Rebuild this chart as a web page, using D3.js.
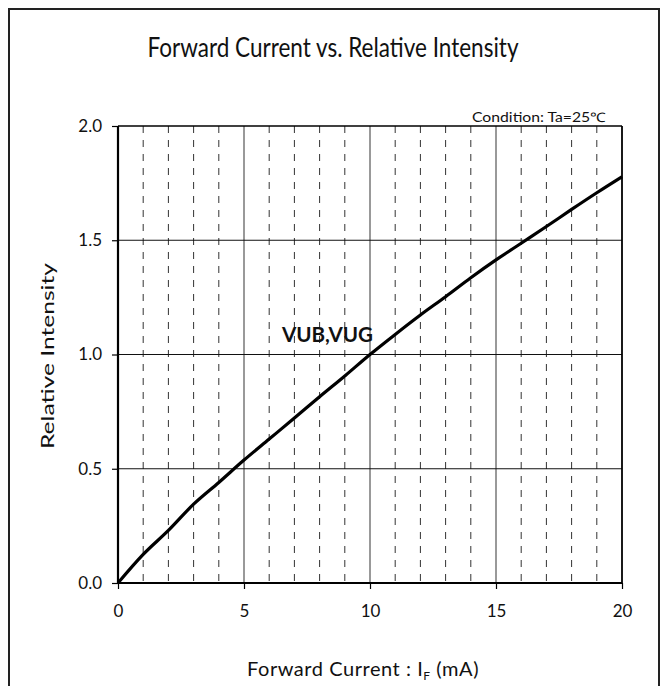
<!DOCTYPE html>
<html><head><meta charset="utf-8">
<script src="https://cdn.jsdelivr.net/npm/d3@7/dist/d3.min.js"></script>
<style>body{margin:0;background:#fff}text{font-family:Lato,"Open Sans",sans-serif;fill:#111}</style>
</head><body><svg id="c" width="665" height="686"></svg>
<script>
const currentMA = [0,1,2,3,4,5,6,7,8,9,10,11,12,13,14,15,16,17,18,19,20];
const relIntensity = [0,0.125,0.23,0.345,0.44,0.538,0.63,0.722,0.815,0.906,1.0,1.088,1.173,1.253,1.336,1.414,1.487,1.56,1.635,1.708,1.778];
const xTicks = [0,5,10,15,20];
const yTicks = [0,0.5,1.0,1.5,2.0];
const xMinorGrid = [1,2,3,4,6,7,8,9,11,12,13,14,16,17,18,19];
const titleText = "Forward Current vs. Relative Intensity";
const conditionText = "Condition: Ta=25\u2103";
const seriesLabel = "VUB,VUG";

const svg = d3.select("#c");
const L=118, R=622, T=126, B=583;
const x = d3.scaleLinear().domain([0,20]).range([L,R]);
const y = d3.scaleLinear().domain([0,2]).range([B,T]);

svg.append("rect").attr("x",9).attr("y",9).attr("width",650).attr("height",700)
  .attr("fill","none").attr("stroke","#222").attr("stroke-width",2);

svg.append("text").attr("x",333).attr("y",57).attr("text-anchor","middle")
  .attr("font-size",26).attr("textLength",371).attr("lengthAdjust","spacingAndGlyphs").text(titleText);
svg.append("text").attr("x",606).attr("y",122).attr("text-anchor","end")
  .attr("font-size",13).attr("textLength",134).attr("lengthAdjust","spacingAndGlyphs").text(conditionText);

const g = svg.append("g");
g.selectAll("line.minor").data(xMinorGrid).join("line")
  .attr("x1",d=>x(d)).attr("x2",d=>x(d)).attr("y1",y(2)).attr("y2",y(0))
  .attr("stroke","#333").attr("stroke-width",1).attr("stroke-dasharray","7,7");
g.selectAll("line.major").data(xTicks.filter(d=>d>0&&d<20)).join("line")
  .attr("x1",d=>x(d)).attr("x2",d=>x(d)).attr("y1",y(2)).attr("y2",y(0))
  .attr("stroke","#555").attr("stroke-width",1.2);
g.selectAll("line.h").data(yTicks.filter(d=>d>0&&d<2)).join("line")
  .attr("x1",x(0)).attr("x2",x(20)).attr("y1",d=>y(d)).attr("y2",d=>y(d))
  .attr("stroke","#111").attr("stroke-width",1.2);
g.append("line").attr("x1",x(0)).attr("x2",x(20)).attr("y1",y(2)).attr("y2",y(2)).attr("stroke","#000").attr("stroke-width",1.6);
g.append("line").attr("x1",x(20)).attr("x2",x(20)).attr("y1",y(2)).attr("y2",y(0)).attr("stroke","#000").attr("stroke-width",1.8);

const xAxis = svg.append("g").attr("transform",`translate(0,${B})`)
  .call(d3.axisBottom(x).tickValues(xTicks).tickSize(6).tickPadding(16).tickFormat(d3.format("d")));
const yAxis = svg.append("g").attr("transform",`translate(${L},0)`)
  .call(d3.axisLeft(y).tickValues(yTicks).tickSize(6).tickPadding(10).tickFormat(d3.format(".1f")));
[xAxis,yAxis].forEach(a=>{
  a.select(".domain").attr("stroke","#000").attr("stroke-width",2.2);
  a.selectAll(".tick line").attr("stroke","#000").attr("stroke-width",1.2);
  a.selectAll(".tick text").attr("font-size",17).attr("fill","#222").attr("font-family","Lato");
});
xAxis.select(".domain").attr("d",`M${L},0H${R}`);
yAxis.select(".domain").attr("d",`M0,${T}V${B}`);

const pts = currentMA.map((c,i)=>[c,relIntensity[i]]);
svg.append("path").datum(pts)
  .attr("d",d3.line().x(d=>x(d[0])).y(d=>y(d[1])).curve(d3.curveMonotoneX))
  .attr("fill","none").attr("stroke","#000").attr("stroke-width",3.2);

svg.append("text").attr("x",282).attr("y",342).attr("font-size",20).attr("font-weight","bold")
  .attr("textLength",91).attr("lengthAdjust","spacingAndGlyphs").text(seriesLabel);

svg.append("text").attr("transform",`translate(54,356) rotate(-90)`).attr("text-anchor","middle")
  .attr("font-size",18).attr("textLength",186).attr("lengthAdjust","spacingAndGlyphs").text("Relative Intensity");
const xt = svg.append("text").attr("x",247).attr("y",676).attr("font-size",20).attr("letter-spacing",0.55);
xt.append("tspan").text("Forward Current : I");
xt.append("tspan").attr("font-size",12).attr("dy",4).text("F");
xt.append("tspan").attr("dy",-4).text(" (mA)");
</script></body></html>
